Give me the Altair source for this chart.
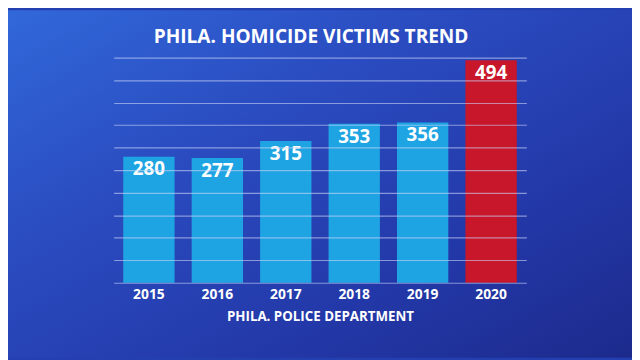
import altair as alt
import pandas as pd

years = ["2015", "2016", "2017", "2018", "2019", "2020"]
victims = [280, 277, 315, 353, 356, 494]
grid_values = [0, 50, 100, 150, 200, 250, 300, 350, 400, 450, 500]

df = pd.DataFrame({"year": years, "victims": victims})
bg_df = pd.DataFrame({"k": [0]})

FONT = "Open Sans"

background = alt.Chart(bg_df).mark_rect(
    fill=alt.LinearGradient(
        gradient="linear",
        stops=[
            alt.GradientStop(color="#3168da", offset=0),
            alt.GradientStop(color="#2a4cc0", offset=0.35),
            alt.GradientStop(color="#2338a8", offset=0.7),
            alt.GradientStop(color="#1c2a8c", offset=1),
        ],
        x1=0, x2=1, y1=0, y2=1,
    ),
    stroke=None,
).encode(
    x=alt.value(-107), x2=alt.value(525), y=alt.value(-48), y2=alt.value(304)
)

x_enc = alt.X(
    "year:N",
    sort=years,
    scale=alt.Scale(paddingInner=0.25, paddingOuter=0.14),
    axis=alt.Axis(
        title="PHILA. POLICE DEPARTMENT",
        labelAngle=0,
        labelColor="white",
        labelFont=FONT,
        labelFontWeight="bold",
        labelFontSize=14,
        labelPadding=5,
        ticks=False,
        domain=False,
        grid=False,
        titleColor="white",
        titleFont=FONT,
        titleFontWeight="bold",
        titleFontSize=13.5,
        titlePadding=8,
        zindex=2,
    ),
)
y_enc = alt.Y(
    "victims:Q",
    scale=alt.Scale(domain=[0, 500], nice=False),
    axis=alt.Axis(
        values=grid_values,
        labels=False,
        ticks=False,
        domain=False,
        grid=True,
        gridColor="#ccd4f7",
        gridOpacity=0.6,
        gridWidth=1.2,
        title=None,
        zindex=2,
    ),
)

bars = alt.Chart(df).mark_bar(opacity=1).encode(
    x=x_enc,
    y=y_enc,
    color=alt.condition(
        alt.datum.year == "2020", alt.value("#c8162a"), alt.value("#1ea4e2")
    ),
)

labels = alt.Chart(df).mark_text(
    color="white",
    font=FONT,
    fontWeight="bold",
    fontSize=19,
    baseline="middle",
    dy=13,
).encode(
    x=x_enc,
    y=y_enc,
    text=alt.Text("victims:Q"),
)

chart = (
    alt.layer(background, bars, labels)
    .properties(
        width=418,
        height=228,
        padding={"left": 107, "top": 48, "right": 107, "bottom": 76},
        autosize=alt.AutoSizeParams(type="none"),
        background="#2440b0",
        title=alt.TitleParams(
            "PHILA. HOMICIDE VICTIMS TREND",
            color="white",
            font=FONT,
            fontWeight="bold",
            fontSize=19.3,
            offset=-37,
            dx=-9,
        ),
    )
    .configure_view(stroke=None)
)

chart.save("out.html", embed_options={"renderer": "svg", "actions": False})
